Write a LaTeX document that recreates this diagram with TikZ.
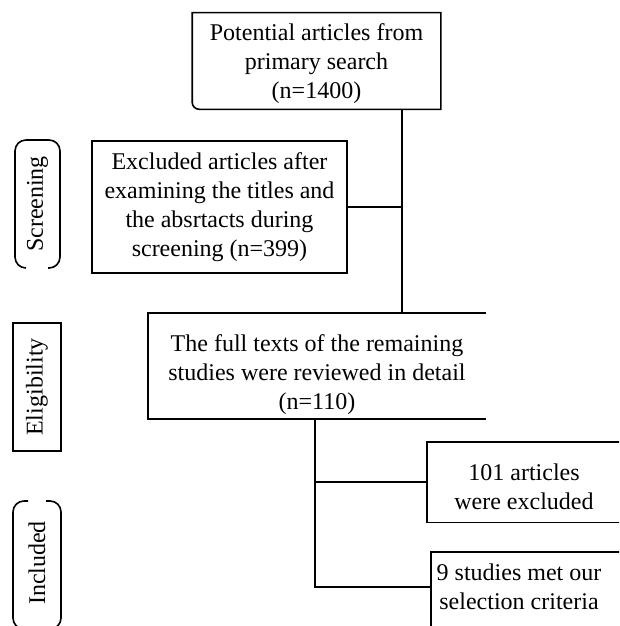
\documentclass[tikz,border=0pt]{standalone}
\usepackage{fontspec}
\setmainfont{Liberation Serif}
\newcommand{\dropstrut}[1]{\rule{0pt}{#1}}
\begin{document}
\begin{tikzpicture}[x=1pt,y=-1pt,
  line width=1.6pt,
  txt/.style={inner sep=0pt,align=center,font=\fontsize{24}{28.8}\selectfont},
  boxd/.style={txt,draw}]
\useasboundingbox (0,0) rectangle (619,626);
\clip (0,0) rectangle (619,626);
% top box
\node[txt,minimum width=247pt,minimum height=95pt] (top) at (316.5,61)
  {\dropstrut{22pt}Potential articles from\\primary search\\(n=1400)};
\draw (top.north west) -- (top.north east) -- (top.south east)
  [rounded corners=7pt] -- (top.south west) [sharp corners] -- cycle;
% excluded box
\node[boxd,minimum width=255pt,minimum height=132pt] (ex) at (219.5,207)
  {Excluded articles after\\examining the titles and\\the absrtacts during\\screening (n=399)};
% full texts box (open at right)
\node[txt,minimum width=336pt,minimum height=104pt] (ft) at (317,366)
  {\dropstrut{34pt}The full texts of the remaining\\studies were reviewed in detail\\(n=110)};
\draw (ft.north east) -- (ft.north west) -- (ft.south west) -- (ft.south east);
% 101 box
\node[txt,minimum width=192pt,minimum height=79pt] (ex2) at (524,482)
  {\dropstrut{27pt}101 articles\\were excluded};
\draw (ex2.north east) -- (ex2.north west) -- (ex2.south west) -- (ex2.south east);
% 9 studies box
\node[txt,minimum width=174pt,minimum height=68pt] (inc) at (519,587)
  {9 studies met our\\selection criteria};
\draw ([yshift=-10pt]inc.south west) -- (inc.north west) -- ([xshift=20pt]inc.north east);
% connectors
\coordinate (sp1) at (402,0);
\coordinate (sp2) at (315,0);
\draw (top.south -| sp1) -- (ft.north -| sp1);
\draw (ex.east) -- (ex.east -| sp1);
\draw (ft.south -| sp2) -- (sp2 |- inc.west) -- (inc.west);
\draw (sp2 |- ex2.west) -- (ex2.west);
% side labels
\node[txt,rotate=90] (lscr) at (37.5,204) {Screening};
\draw[rounded corners=11pt] (26,268) -- (15,268) -- (15,140) -- (60,140) -- (60,268) -- (48,268);
\node[boxd,rotate=90,minimum width=128pt,minimum height=48pt] (lel) at (37,387) {Eligibility};
\node[txt,rotate=90] (linc) at (37,563) {Included};
\draw[rounded corners=11pt] (28,501) -- (13,501) -- (13,629) -- (28,629);
\draw[rounded corners=11pt] (46,501) -- (61,501) -- (61,629) -- (46,629);
\end{tikzpicture}
\end{document}
